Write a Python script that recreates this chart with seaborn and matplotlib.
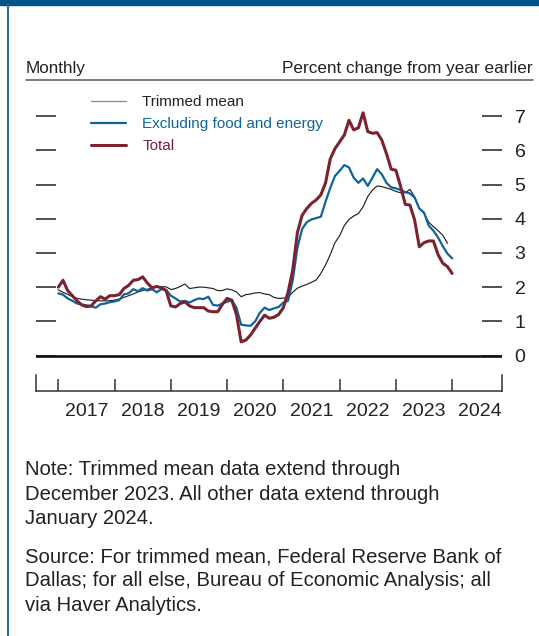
import numpy as np
import pandas as pd
import matplotlib.pyplot as plt
import seaborn as sns
from matplotlib.lines import Line2D
from matplotlib.patches import Rectangle

# monthly year-over-year percent change, Jan 2017 onward
total = [
    2.0, 2.2, 1.9, 1.75, 1.6, 1.48, 1.43, 1.45, 1.6, 1.72, 1.65, 1.75,      # 2017
    1.75, 1.78, 1.96, 2.05, 2.2, 2.22, 2.3, 2.12, 1.98, 2.02, 1.98, 1.9,    # 2018
    1.45, 1.42, 1.52, 1.57, 1.45, 1.4, 1.4, 1.4, 1.3, 1.28, 1.28, 1.5,      # 2019
    1.67, 1.62, 1.2, 0.4, 0.45, 0.6, 0.8, 1.0, 1.18, 1.09, 1.12, 1.2,       # 2020
    1.4, 1.85, 2.5, 3.6, 4.1, 4.3, 4.45, 4.55, 4.7, 5.05, 5.75, 6.05,       # 2021
    6.25, 6.45, 6.88, 6.6, 6.66, 7.1, 6.55, 6.5, 6.52, 6.3, 5.9, 5.45,      # 2022
    5.42, 4.95, 4.42, 4.4, 3.96, 3.18, 3.3, 3.35, 3.35, 2.95, 2.7, 2.6,     # 2023
    2.4,                                                                    # 2024
]
core = [
    1.82, 1.78, 1.67, 1.6, 1.52, 1.49, 1.47, 1.44, 1.4, 1.5, 1.52, 1.56,
    1.58, 1.62, 1.79, 1.82, 1.94, 1.88, 1.97, 1.9, 1.94, 1.85, 1.94, 1.92,
    1.75, 1.67, 1.58, 1.6, 1.55, 1.62, 1.67, 1.65, 1.72, 1.48, 1.46, 1.52,
    1.57, 1.62, 1.4, 0.9, 0.88, 0.87, 1.0, 1.25, 1.4, 1.33, 1.38, 1.42,
    1.55, 1.6, 2.2, 3.15, 3.7, 3.9, 3.98, 4.02, 4.06, 4.5, 4.9, 5.25,
    5.4, 5.57, 5.5, 5.2, 5.05, 5.18, 4.96, 5.2, 5.45, 5.3, 5.05, 4.92,
    4.89, 4.84, 4.78, 4.74, 4.62, 4.3, 4.18, 3.8, 3.65, 3.45, 3.2, 2.98,
    2.84,
]
trimmed = [
    1.92, 1.85, 1.79, 1.72, 1.67, 1.65, 1.63, 1.62, 1.6, 1.6, 1.6, 1.6,
    1.62, 1.65, 1.7, 1.75, 1.8, 1.86, 1.9, 1.94, 1.97, 2.0, 2.01, 2.01,
    1.93, 1.96, 2.02, 2.09, 1.96, 1.98, 2.0, 2.0, 1.98, 1.96, 1.9, 1.9,
    1.95, 1.92, 1.86, 1.72, 1.78, 1.8, 1.83, 1.84, 1.8, 1.78, 1.7, 1.67,
    1.68, 1.7, 1.85, 1.97, 2.03, 2.08, 2.14, 2.21, 2.4, 2.65, 2.95, 3.3,
    3.5, 3.8, 3.98, 4.08, 4.15, 4.35, 4.65, 4.84, 4.96, 4.94, 4.9, 4.86,
    4.8, 4.76, 4.76, 4.86, 4.64, 4.3, 4.16, 3.9, 3.77, 3.65, 3.52, 3.28,
]
years = list(range(2017, 2025))
labels = ["Trimmed mean", "Excluding food and energy", "Total"]

maroon = "#7b2230"
blue = "#0f639c"
dark = "#222222"

def monthly(vals):
    return pd.DataFrame({"date": 2017 + np.arange(len(vals)) / 12, "value": vals})

sns.set_theme(style="white")
plt.rcParams["font.family"] = ["Liberation Sans", "DejaVu Sans"]

fig = plt.figure(figsize=(5.39, 6.36), dpi=100)
ax = fig.add_axes([36 / 539, 1 - 391 / 636, 466 / 539, 296 / 636])

ax.axhline(0, color="#111111", lw=1.9, zorder=1)
sns.lineplot(data=monthly(trimmed), x="date", y="value", color=dark, lw=0.85, ax=ax)
sns.lineplot(data=monthly(core), x="date", y="value", color=blue, lw=1.6, ax=ax)
sns.lineplot(data=monthly(total), x="date", y="value", color=maroon, lw=2.2, ax=ax)

ymin = -1.038
ax.set_xlim(2016.604, 2024.886)
ax.set_ylim(ymin, 7.62)
ax.set_xlabel("")
ax.set_ylabel("")

ax.set_xticks(years)
ax.set_xticklabels([])
ax.set_xticks(np.array(years) + 0.5, minor=True)
ax.set_xticklabels([str(y) for y in years], minor=True)
ax.tick_params(axis="x", which="major", direction="in", length=8.6, width=1.1,
               color="#333333", bottom=True)
ax.tick_params(axis="x", which="minor", length=0, pad=9, labelsize=14, labelcolor=dark)

ax.set_yticks(range(0, 8))
ax.tick_params(axis="y", direction="in", length=14.4, width=1.1, color=dark,
               left=True, right=True, labelleft=False, labelright=True,
               pad=9, labelsize=14, labelcolor=dark)

ax.spines["top"].set_visible(False)
for side in ["left", "right"]:
    ax.spines[side].set_bounds(ymin, ymin + 0.47)
for side in ["left", "right", "bottom"]:
    ax.spines[side].set_color("#333333")
    ax.spines[side].set_linewidth(1.1)

# legend
handles = [Line2D([], [], color="#888888", lw=0.9),
           Line2D([], [], color=blue, lw=1.6),
           Line2D([], [], color=maroon, lw=2.2)]
leg = fig.legend(handles, labels, loc="upper left", bbox_to_anchor=(91 / 539, 1 - 95.5 / 636),
                 frameon=False, fontsize=11, handlelength=2.3, handletextpad=1.05,
                 labelspacing=0.52, borderpad=0, borderaxespad=0)
for txt, c in zip(leg.get_texts(), [dark, blue, maroon]):
    txt.set_color(c)

# header and frame
fig.add_artist(Rectangle((0, 1 - 5 / 636), 1, 5 / 636, color="#00538a",
                         transform=fig.transFigure))
fig.add_artist(Line2D([7.5 / 539, 7.5 / 539], [0, 1 - 5 / 636], color="#2a6aa3", lw=1.5))
fig.add_artist(Line2D([26 / 539, 533 / 539], [1 - 80 / 636] * 2, color="#666666", lw=1.2))
fig.text(26 / 539, 1 - 68 / 636, "Monthly", fontsize=12.3, color=dark, va="center")
fig.text(533 / 539, 1 - 68 / 636, "Percent change from year earlier", fontsize=12.3,
         color=dark, va="center", ha="right")

fig.text(25 / 539, 1 - 494 / 636,
         "Note: Trimmed mean data extend through\nDecember 2023. All other data extend through\nJanuary 2024.",
         fontsize=14.6, color=dark, va="center", linespacing=1.36)
fig.text(25 / 539, 1 - 581 / 636,
         "Source: For trimmed mean, Federal Reserve Bank of\nDallas; for all else, Bureau of Economic Analysis; all\nvia Haver Analytics.",
         fontsize=14.6, color=dark, va="center", linespacing=1.36)

fig.savefig("out.png", dpi=100)
